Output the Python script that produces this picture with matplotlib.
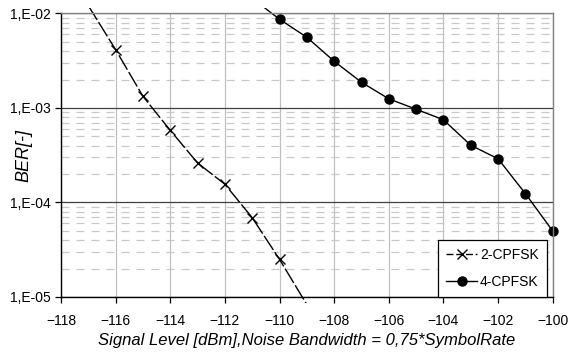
import matplotlib.pyplot as plt
import matplotlib.ticker as mticker
from matplotlib.patches import Rectangle
import numpy as np

plt.rcParams['font.family'] = ['Liberation Sans', 'DejaVu Sans']

# BER curves, signal level in dBm; end points lie just outside the plot
level_2 = [-117, -116, -115, -114, -113, -112, -111, -110, -109]
ber_2 = [1.21e-2, 4.14e-3, 1.33e-3, 5.8e-4, 2.62e-4, 1.56e-4, 6.9e-5, 2.5e-5, 8.3e-6]

level_4 = [-111, -110, -109, -108, -107, -106, -105, -104, -103, -102, -101, -100]
ber_4 = [1.45e-2, 8.68e-3, 5.6e-3, 3.12e-3, 1.87e-3, 1.25e-3, 9.7e-4, 7.5e-4,
         4.03e-4, 2.9e-4, 1.24e-4, 4.99e-5]

x_ticks = np.arange(-118, -99, 2)
y_ticks = [1e-5, 1e-4, 1e-3, 1e-2]

fig = plt.figure(figsize=(5.78, 3.55), dpi=100)
ax = fig.add_axes([0.1055, 0.1634, 0.8508, 0.7986])

ax.set_yscale('log')
ax.set_xlim(-118, -100)
ax.set_ylim(1e-5, 1e-2)

# grid: solid decades, dashed minor lines, light verticals
ax.set_xticks(x_ticks)
ax.set_yticks(y_ticks)
ax.yaxis.set_minor_locator(mticker.LogLocator(base=10, subs=np.arange(2, 10)))
ax.yaxis.set_minor_formatter(mticker.NullFormatter())
ax.grid(True, which='major', axis='y', color='#404040', lw=0.9)
ax.grid(True, which='minor', axis='y', color='#c8c8c8', lw=0.9,
        ls=(0, (6.4, 5.6)))
ax.grid(True, which='major', axis='x', color='#c0c0c0', lw=0.9)
ax.set_axisbelow(True)

ax.yaxis.set_major_formatter(mticker.FuncFormatter(
    lambda v, p: '1,E-%02d' % round(-np.log10(v))))
ax.tick_params(axis='both', which='major', direction='out', length=4,
               width=0.9, labelsize=10, color='black')
ax.tick_params(axis='x', which='major', pad=8)
ax.tick_params(axis='y', which='minor', length=0)

for side in ['left', 'bottom']:
    ax.spines[side].set_color('black')
    ax.spines[side].set_linewidth(1.0)
for side in ['top', 'right']:
    ax.spines[side].set_color('#808080')
    ax.spines[side].set_linewidth(1.0)

# lines run a little past the frame
clip = Rectangle((0, -0.02), 1, 1.04, transform=ax.transAxes, visible=False)
ax.add_patch(clip)

l2, = ax.plot(level_2, ber_2, color='black', lw=1.0, dashes=(12, 2))
l2.set_clip_path(clip)
ax.plot(level_2[1:-1], ber_2[1:-1], ls='none', marker='x', ms=7, mew=1.0,
        color='black')

l4, = ax.plot(level_4, ber_4, color='black', lw=1.0)
l4.set_clip_path(clip)
ax.plot(level_4[1:], ber_4[1:], ls='none', marker='o', ms=6.5, color='black',
        clip_on=False)

h2, = ax.plot([], [], color='black', lw=1.0, dashes=(5, 2), marker='x',
              ms=7, mew=1.0, label='2-CPFSK')
h4, = ax.plot([], [], color='black', lw=1.0, marker='o', ms=6.5,
              label='4-CPFSK')
leg = ax.legend(handles=[h2, h4], loc='lower right',
                bbox_to_anchor=(0.988, 0.0), fontsize=10, frameon=True,
                fancybox=False, edgecolor='black', framealpha=1,
                borderpad=0.6, labelspacing=0.9, handlelength=2.2,
                handletextpad=0.2, borderaxespad=0)
leg.get_frame().set_linewidth(0.9)

ax.set_xlabel('Signal Level [dBm],Noise Bandwidth = 0,75*SymbolRate',
              fontsize=12, style='italic')
ax.xaxis.set_label_coords(0.5, -0.154)
ax.xaxis.label.set_verticalalignment('center')
ax.set_ylabel('BER[-]', fontsize=13, style='italic')
ax.yaxis.set_label_coords(-0.076, 0.5)
ax.yaxis.label.set_verticalalignment('center')

fig.savefig('out.png', dpi=100)
